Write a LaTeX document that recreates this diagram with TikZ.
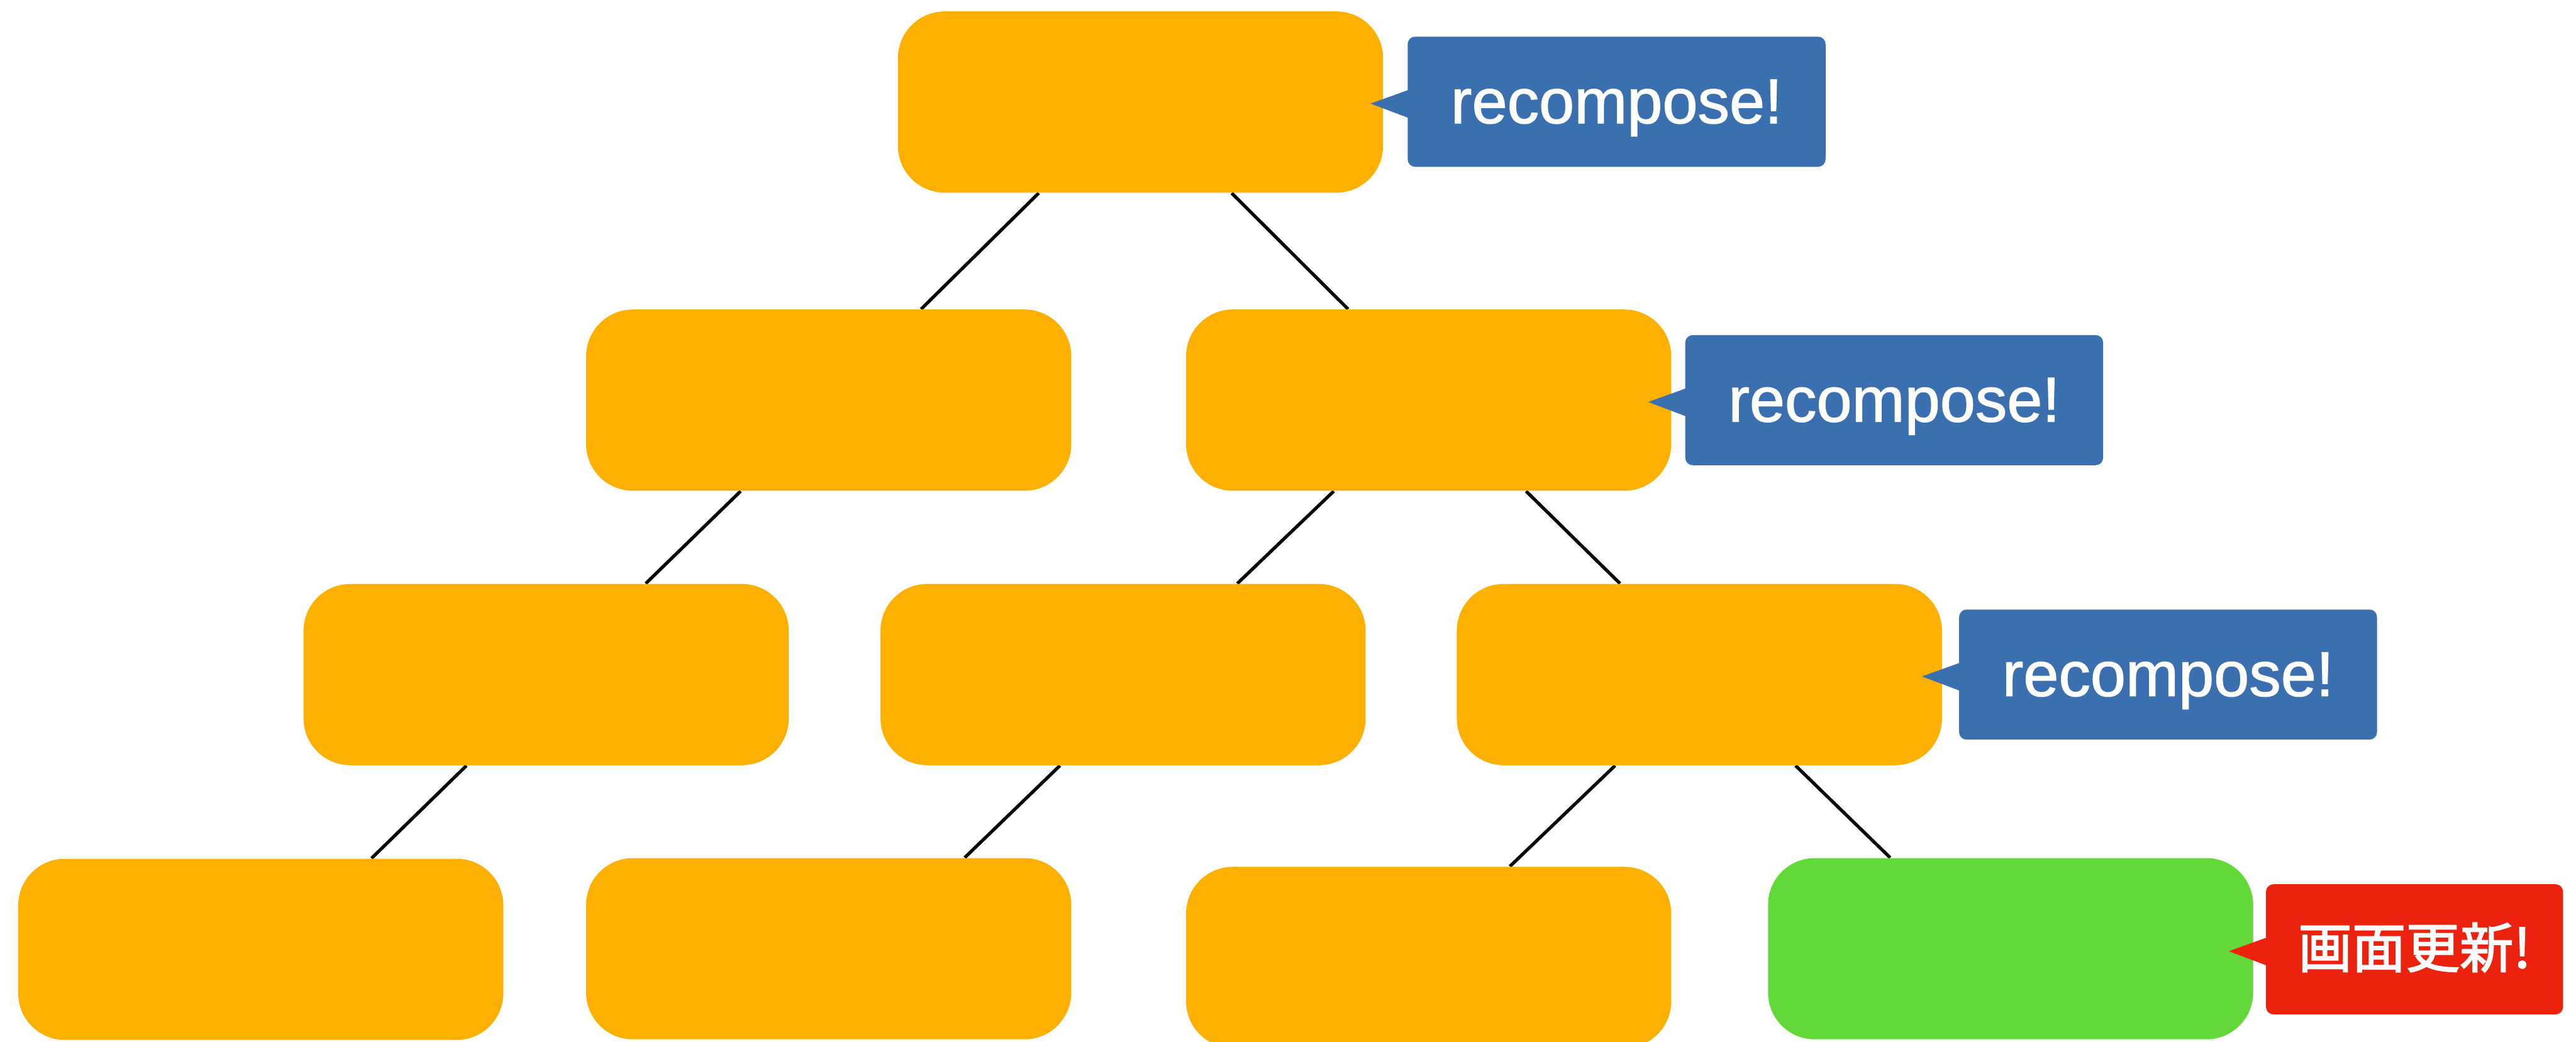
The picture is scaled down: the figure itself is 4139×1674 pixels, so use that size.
\documentclass[tikz,border=0pt]{standalone}
\usepackage{fontspec}
\setmainfont{Liberation Sans}
\newfontfamily\tagfont{Liberation Sans}[FakeBold=1.3]
\newfontfamily\cjkfont{Noto Sans CJK JP}[FakeBold=2.2]
\usetikzlibrary{calc,backgrounds}

\definecolor{boxorange}{HTML}{FEB000}
\definecolor{boxgreen}{HTML}{62D938}
\definecolor{tagblue}{HTML}{3A70B0}
\definecolor{tagred}{HTML}{EC220E}

\begin{document}
\begin{tikzpicture}[x=0.01cm,y=-0.01cm,
  treebox/.style={fill=boxorange, rounded corners=0.75cm,
    minimum width=7.79cm, minimum height=2.91cm, inner sep=0pt},
  tagbox/.style={rounded corners=0.12cm, minimum height=2.09cm,
    inner sep=0pt, text=white},
  bluetag/.style={tagbox, fill=tagblue, minimum width=6.71cm,
    font=\tagfont\fontsize{29}{34}\selectfont, text height=19.6pt, text depth=0pt},
  redtag/.style={tagbox, fill=tagred, minimum width=4.77cm,
    font=\cjkfont\fontsize{24.6}{30}\selectfont, text height=16.8pt, text depth=0pt},
  link/.style={line width=1.5pt, black}]

\useasboundingbox (0,0) rectangle (4139,1674);

% tree of components
\node[treebox] (root) at (1832.5,164) {};
\node[treebox] (l1a) at (1331.5,643) {};
\node[treebox] (l1b) at (2295.5,643) {};
\node[treebox] (l2a) at (877.5,1084) {};
\node[treebox] (l2b) at (1804.5,1084) {};
\node[treebox] (l2c) at (2730.5,1084) {};
\node[treebox] (l3a) at (419,1525.5) {};
\node[treebox] (l3b) at (1331.5,1524.5) {};
\node[treebox] (l3c) at (2295.5,1538.5) {};
\node[treebox, fill=boxgreen] (l3d) at (3230.5,1524.5) {};

% parent-child links behind the boxes
\begin{scope}[on background layer]
  \draw[link] ($(root.south)+(-163.5,0)$) -- ($(l1a.north)+(148.5,0)$);
  \draw[link] ($(root.south)+(146.5,0)$) -- ($(l1b.north)+(-129.5,0)$);
  \draw[link] ($(l1a.south)+(-141.5,0)$) -- ($(l2a.north)+(160,0)$);
  \draw[link] ($(l1b.south)+(-152.5,0)$) -- ($(l2b.north)+(183.5,0)$);
  \draw[link] ($(l1b.south)+(156.5,0)$) -- ($(l2c.north)+(-127.5,0)$);
  \draw[link] ($(l2a.south)+(-128,0)$) -- ($(l3a.north)+(178,0)$);
  \draw[link] ($(l2b.south)+(-101.5,0)$) -- ($(l3b.north)+(218.5,0)$);
  \draw[link] ($(l2c.south)+(-135.5,0)$) -- ($(l3c.north)+(130.5,0)$);
  \draw[link] ($(l2c.south)+(154.5,0)$) -- ($(l3d.north)+(-193.5,0)$);
\end{scope}

% speech-bubble tags
\node[bluetag] (t1) at (2597.5,163.5) {recompose!};
\node[bluetag] (t2) at (3043.5,643) {recompose!};
\node[bluetag] (t3) at (3483.5,1084) {recompose!};
\node[redtag] (t4) at (3879.5,1525.5) {画面更新!};

\foreach \t/\c in {t1/tagblue,t2/tagblue,t3/tagblue,t4/tagred}{
  \fill[\c] ($(\t.west)+(2,-19)$) -- ($(\t.west)+(-59,3)$) -- ($(\t.west)+(2,26)$) -- cycle;
}
\end{tikzpicture}
\end{document}
